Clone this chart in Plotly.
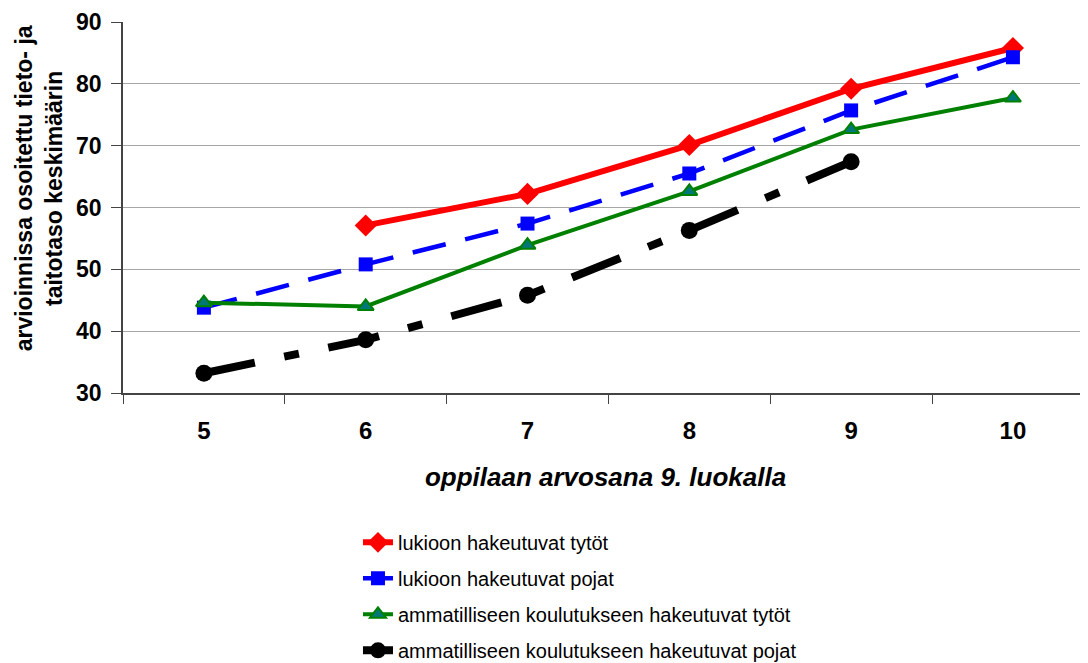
import plotly.graph_objects as go

grades = [5, 6, 7, 8, 9, 10]
tick_labels = ["5", "6", "7", "8", "9", "10"]

lukio_tytot = [None, 57.1, 62.2, 70.1, 79.2, 85.8]
lukio_pojat = [43.8, 50.8, 57.4, 65.5, 75.7, 84.3]
amm_tytot = [44.6, 44.0, 53.9, 62.6, 72.6, 77.7]
amm_pojat = [33.2, 38.6, 45.8, 56.3, 67.4, None]

names = [
    "lukioon hakeutuvat tytöt",
    "lukioon hakeutuvat pojat",
    "ammatilliseen koulutukseen hakeutuvat tytöt",
    "ammatilliseen koulutukseen hakeutuvat pojat",
]
y_title = "arvioinnissa osoitettu tieto- ja<br>taitotaso keskimäärin"
x_title = "oppilaan arvosana 9. luokalla"

FONT = "Arial, Liberation Sans, sans-serif"
AXIS = "#444444"

fig = go.Figure()
fig.add_trace(go.Scatter(
    x=grades, y=lukio_tytot, name=names[0], mode="lines+markers", legendgroup="a",
    line=dict(color="#ff0000", width=6),
    marker=dict(symbol="diamond", size=17, color="#ff0000"),
))
fig.add_trace(go.Scatter(
    x=grades, y=lukio_pojat, name=names[1], mode="lines+markers", legendgroup="b",
    line=dict(color="#0000ff", width=4.5, dash="34px,20px"),
    marker=dict(symbol="square", size=14, color="#0000ff"),
))
fig.add_trace(go.Scatter(
    x=grades, y=amm_tytot, name=names[2], mode="lines+markers", legendgroup="c",
    line=dict(color="#008000", width=4),
    marker=dict(symbol="triangle-up", size=14, color="#007878",
                line=dict(color="#008000", width=2)),
))
fig.add_trace(go.Scatter(
    x=grades, y=amm_pojat, name=names[3], mode="lines+markers", legendgroup="d",
    line=dict(color="#000000", width=8, dash="52px,30px,15px,30px"),
    marker=dict(symbol="circle", size=17, color="#000000"),
))

fig.update_layout(
    width=1080, height=655,
    margin=dict(l=115, r=0, t=13.5, b=270, autoexpand=False),
    plot_bgcolor="white", paper_bgcolor="white",
    font=dict(family=FONT, color="black"),
    showlegend=True,
    legend=dict(
        x=0.2435, y=-0.35, xanchor="left", yanchor="top",
        font=dict(size=20, family=FONT, color="black"),
        traceorder="grouped", tracegroupgap=7,
        bgcolor="rgba(0,0,0,0)",
    ),
    xaxis=dict(
        range=[4.5, 10.464], automargin=False,
        tickmode="array", tickvals=grades, ticktext=tick_labels,
        ticks="", ticklabelstandoff=15, ticklabeloverflow="allow",
        tickfont=dict(size=24, family=FONT, weight="bold"),
        showgrid=False, zeroline=False,
        showline=True, linecolor=AXIS, linewidth=1.5,
        minor=dict(ticks="outside", tick0=4.5, dtick=1, ticklen=9,
                   tickcolor=AXIS, showgrid=False),
        title=dict(text="<b><i>" + x_title + "</i></b>",
                   font=dict(size=26, family=FONT), standoff=25),
    ),
    yaxis=dict(
        range=[30, 90], tickmode="linear", tick0=30, dtick=10, automargin=False,
        ticks="outside", ticklen=10, tickcolor=AXIS, ticklabelstandoff=5,
        ticklabeloverflow="allow",
        tickfont=dict(size=23, family=FONT, weight="bold"),
        showgrid=True, gridcolor="#a6a6a6", gridwidth=1,
        zeroline=False,
        showline=True, linecolor=AXIS, linewidth=1.5,
    ),
    annotations=[dict(
        text="<b>" + y_title + "</b>", textangle=-90,
        xref="paper", yref="paper", x=-0.0876, y=0.553,
        xanchor="center", yanchor="middle", showarrow=False,
        font=dict(size=23, family=FONT, color="black"),
    )],
)

fig.write_html("out.html")
